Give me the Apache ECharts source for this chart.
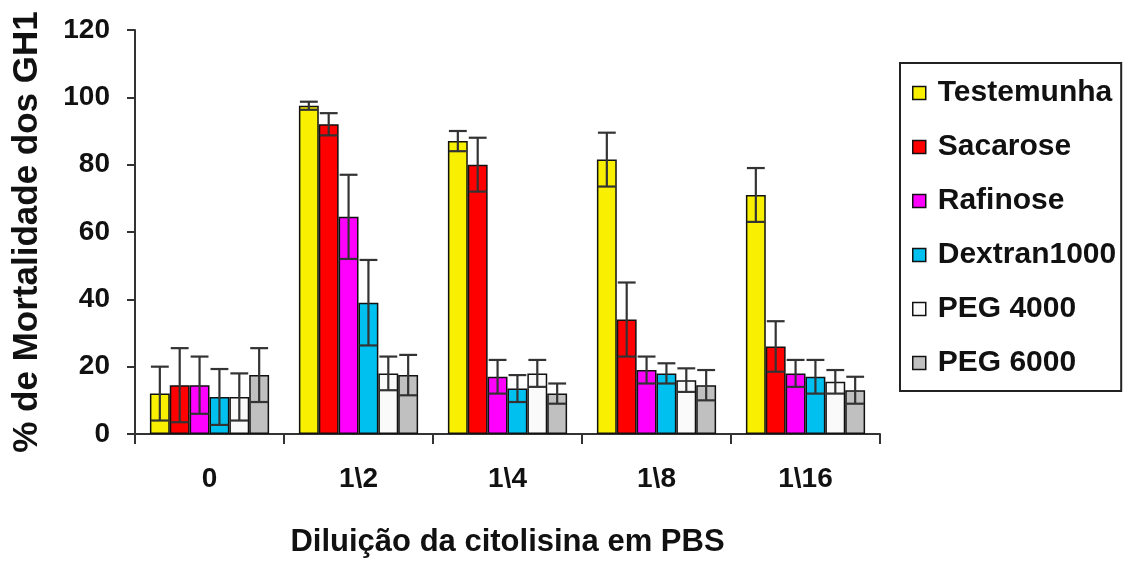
<!DOCTYPE html>
<html>
<head>
<meta charset="utf-8">
<script src="https://cdn.jsdelivr.net/npm/echarts@6/dist/echarts.min.js"></script>
<style>
html,body{margin:0;padding:0;background:#fff;}
#chart{width:1124px;height:563px;}
</style>
</head>
<body>
<div id="chart"></div>
<script>
const categories = ['0', '1\\2', '1\\4', '1\\8', '1\\16'];
const seriesNames = ['Testemunha', 'Sacarose', 'Rafinose', 'Dextran1000', 'PEG 4000', 'PEG 6000'];

const testemunha = [12, 97.5, 87, 81.5, 71];
const sacarose   = [14.5, 92, 80, 34, 26];
const rafinose   = [14.5, 64.5, 17, 19, 18];
const dextran    = [11, 39, 13.5, 18, 17];
const peg4000    = [11, 18, 18, 16, 15.5];
const peg6000    = [17.5, 17.5, 12, 14.5, 13];

const testemunhaErr = [8, 1.2, 3, 8, 8];
const sacaroseErr   = [11, 3.3, 8, 11, 7.5];
const rafinoseErr   = [8.5, 12.5, 5, 4, 4];
const dextranErr    = [8.3, 12.7, 4, 3, 5];
const peg4000Err    = [7, 5, 4, 3.5, 3.5];
const peg6000Err    = [8, 6, 3, 4.5, 4];

const yTicks = { min: 0, max: 120, interval: 20 };

const allValues = [testemunha, sacarose, rafinose, dextran, peg4000, peg6000];
const allErrs = [testemunhaErr, sacaroseErr, rafinoseErr, dextranErr, peg4000Err, peg6000Err];
const colors = ['#F8F000', '#FF0000', '#FF00FF', '#00C0F0', '#FAFAFA', '#C0C0C0'];

const FONT = "'Liberation Sans', Arial, sans-serif";
const CAT_GAP = 0.2;
const N = seriesNames.length;

const series = [];
seriesNames.forEach((name, i) => {
  series.push({
    name: name,
    type: 'bar',
    data: allValues[i],
    barGap: '0%',
    barCategoryGap: '20%',
    itemStyle: { color: colors[i], borderColor: '#111', borderWidth: 1.5 },
    z: 2
  });
});
seriesNames.forEach((name, i) => {
  series.push({
    type: 'custom',
    id: 'err' + i,
    z: 5,
    silent: true,
    data: allValues[i].map((v, k) => [k, v, allErrs[i][k]]),
    encode: { x: 0, y: 1 },
    renderItem: function (params, api) {
      const ci = api.value(0), v = api.value(1), e = api.value(2);
      const c = api.coord([ci, v]);
      const top = api.coord([ci, v + e]);
      const bot = api.coord([ci, v - e]);
      const cw = api.size([1, 0])[0];
      const bw = cw * (1 - CAT_GAP) / N;
      const x = c[0] + (i - (N - 1) / 2) * bw;
      const hw = bw / 2 - 1;
      const st = { stroke: '#333', lineWidth: 2.2 };
      return {
        type: 'group',
        children: [
          { type: 'line', shape: { x1: x, y1: top[1], x2: x, y2: bot[1] }, style: st },
          { type: 'line', shape: { x1: x - hw, y1: top[1], x2: x + hw, y2: top[1] }, style: st },
          { type: 'line', shape: { x1: x - hw, y1: bot[1], x2: x + hw, y2: bot[1] }, style: st }
        ]
      };
    }
  });
});

const chart = echarts.init(document.getElementById('chart'));
chart.setOption({
  animation: false,
  backgroundColor: '#fff',
  grid: { left: 135, right: 244, top: 30, bottom: 129, containLabel: false, outerBoundsMode: 'none' },
  legend: {
    data: seriesNames,
    orient: 'vertical',
    left: 900,
    top: 63,
    padding: [15, 5, 13, 12],
    itemWidth: 13,
    itemHeight: 13,
    itemGap: 24,
    icon: 'rect',
    borderColor: '#222',
    borderWidth: 2,
    borderRadius: 0,
    textStyle: { fontFamily: FONT, fontWeight: 'bold', fontSize: 30, color: '#111', lineHeight: 30, padding: [0, 0, 0, 7] },
    itemStyle: { borderColor: '#111', borderWidth: 1.5 }
  },
  xAxis: {
    type: 'category',
    data: categories,
    name: 'Diluição da citolisina em PBS',
    nameLocation: 'middle',
    nameGap: 93,
    nameTextStyle: { fontFamily: FONT, fontWeight: 'bold', fontSize: 31, color: '#111' },
    axisLine: { lineStyle: { color: '#333', width: 2 } },
    axisTick: { show: true, length: 10, lineStyle: { color: '#333', width: 2 } },
    axisLabel: { fontFamily: FONT, fontWeight: 'bold', fontSize: 28, color: '#111', margin: 31 }
  },
  yAxis: {
    type: 'value',
    min: yTicks.min,
    max: yTicks.max,
    interval: yTicks.interval,
    name: '% de Mortalidade dos GH1',
    nameLocation: 'middle',
    nameGap: 90,
    nameTextStyle: { fontFamily: FONT, fontWeight: 'bold', fontSize: 35, color: '#111' },
    splitLine: { show: false },
    axisLine: { show: true, lineStyle: { color: '#333', width: 2 } },
    axisTick: { show: true, length: 8, lineStyle: { color: '#333', width: 2 } },
    axisLabel: { fontFamily: FONT, fontWeight: 'bold', fontSize: 28, color: '#111', margin: 25 }
  },
  series: series
});
</script>
</body>
</html>
